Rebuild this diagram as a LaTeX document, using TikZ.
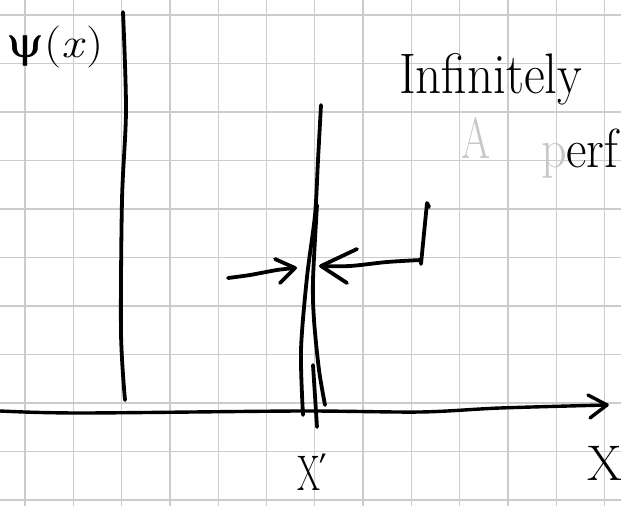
\documentclass[tikz,border=0pt]{standalone}
\usepackage{fontspec}
\newfontfamily\grk{DejaVu Serif}
\definecolor{gridc}{gray}{0.80}
\definecolor{pale}{gray}{0.78}
\tikzset{
  gridline/.style={gridc, line width=1.3pt},
  ink/.style={black, line width=3.8pt, line cap=round, line join=round},
  txt/.style={inner sep=0pt, outer sep=0pt},
}
\begin{document}
\begin{tikzpicture}[x=1pt,y=-1pt]
\useasboundingbox (0,0) rectangle (621,506);
\fill[white] (0,0) rectangle (621,506);
\clip (0,0) rectangle (621,506);
% graph paper
\foreach \i in {0,...,12} \draw[gridline] ({25+48.3*\i},0) -- ({25+48.3*\i},506);
\foreach \j in {0,...,10} \draw[gridline] (0,{15+48.5*\j}) -- (621,{15+48.5*\j});

% labels
\node[txt, font=\fontsize{42}{42}\selectfont, xscale=1.15, anchor=center] (psi) at (55,47) {{\grk ψ}(\textit{x})};
\node[txt, font=\fontsize{51}{51}\selectfont, yscale=1.12, anchor=base west] (inf) at (399,93) {Infinitely};
\node[txt, text=pale, font=\fontsize{58}{58}\selectfont, xscale=0.72, anchor=base west] (A) at (461,158) {A};
\node[txt, font=\fontsize{50}{50}\selectfont, yscale=1.1, anchor=base west] (perf) at (541,167) {\textcolor{pale}{p}erf};
\node[txt, font=\fontsize{50}{50}\selectfont, xscale=0.66, anchor=base west] (xp) at (297,490) {X{\grk ′}};
\node[txt, font=\fontsize{50}{50}\selectfont, anchor=base west] (X) at (587,480) {X};

% vertical line (psi axis)
\draw[ink] plot[smooth] coordinates {(123,12) (126,110) (122,200) (121,333) (125,400)};

% x axis
\coordinate (axS) at (0,411);
\coordinate (axE) at (607,405);
\draw[ink, line width=3.4pt] plot[smooth] coordinates {(axS) (80,413) (300,411) (420,412) (500,408) (axE)};
\draw[ink, line width=3.4pt] (588,395) -- (axE) -- (590,418);

% spike
\draw[ink] plot[smooth] coordinates {(321,105) (318,160) (315,215) (307,277) (301,350) (303,415)};
\draw[ink] plot[smooth] coordinates {(317,205) (313,280) (314,320) (319,370) (325,405)};
\draw[ink] (313,365) -- (317,427);

% left arrow
\coordinate (laS) at (228,278);
\coordinate (laT) at (295,268);
\draw[ink] plot[smooth] coordinates {(laS) (250,275) (277,270) (laT)};
\draw[ink] (275,259) -- (laT) -- (280,283);

% right arrow with bracket
\coordinate (raT) at (321,266);
\coordinate (raC) at (421,260);
\coordinate (raTop) at (427,203);
\draw[ink] plot[smooth] coordinates {(raT) (350,266) (387,262) (raC)};
\draw[ink] (357,249) -- (raT) -- (347,283);
\draw[ink] (421,264) -- (raTop) -- (429,207);
\end{tikzpicture}
\end{document}
